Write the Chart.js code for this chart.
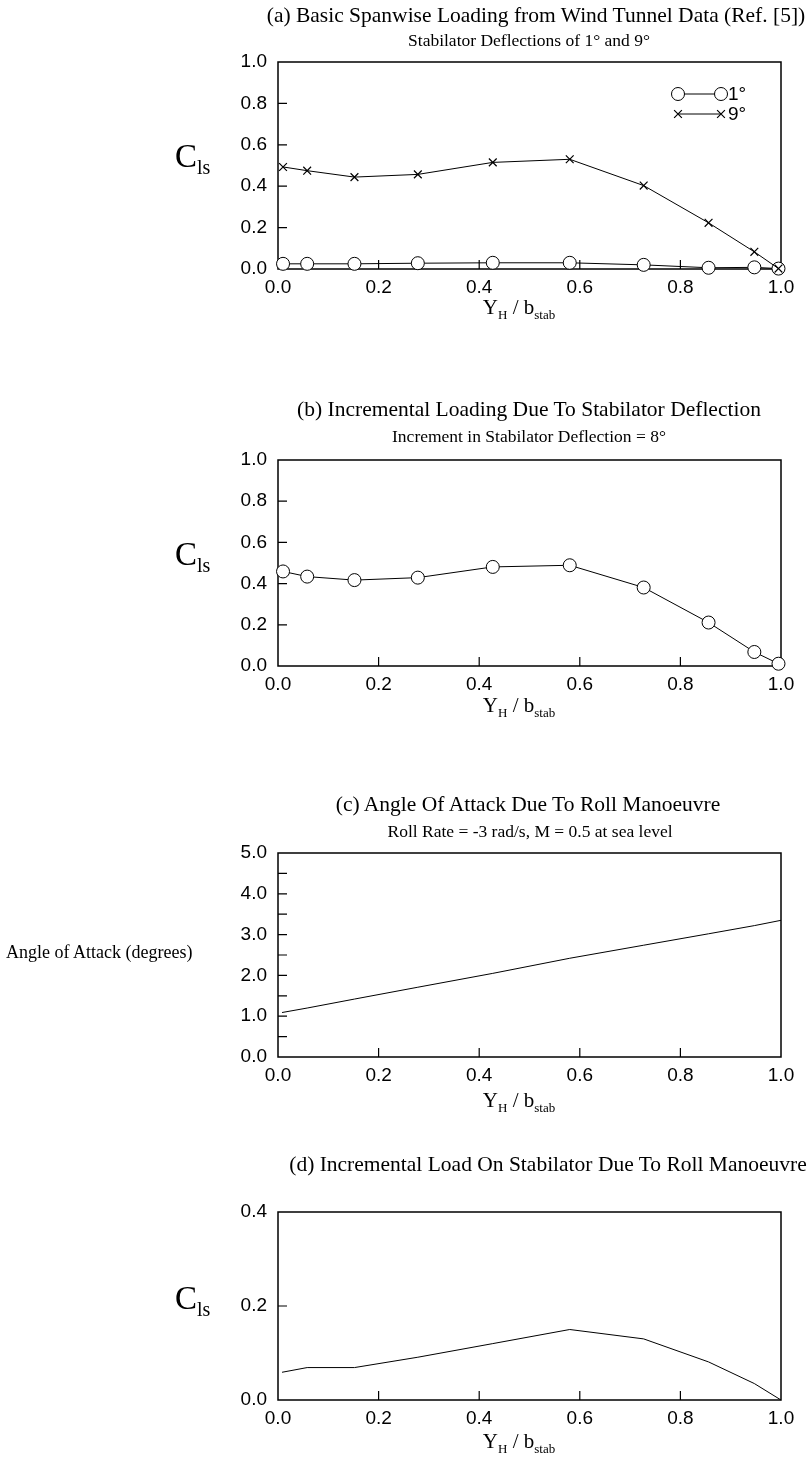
<!DOCTYPE html>
<html>
<head>
<meta charset="utf-8">
<script src="https://cdn.jsdelivr.net/npm/chart.js@4.4.1/dist/chart.umd.min.js"></script>
<style>
html,body{margin:0;padding:0;background:#fff;}
body{width:807px;height:1463px;position:relative;overflow:hidden;}
canvas{position:absolute;left:0;}
.t{position:absolute;font-family:"Liberation Serif","Times New Roman",serif;color:#000;white-space:nowrap;line-height:1;}
.c{transform:translate(-50%,-50%);}
.m{transform:translateY(-50%);}
.s{position:relative;}
.ti{font-size:21.5px;}
.st{font-size:17.5px;}
.xt{font-size:21px;}
.xt .s{font-size:13px;top:5px;}
.yc{font-size:33px;}
.yc .s{font-size:20px;top:7px;}
</style>
</head>
<body>
<canvas id="ca"></canvas>
<canvas id="cb"></canvas>
<canvas id="cc"></canvas>
<canvas id="cd"></canvas>

<div class="t c ti" style="left:536px;top:16px;">(a) Basic Spanwise Loading from Wind Tunnel Data (Ref. [5])</div>
<div class="t c st" style="left:529px;top:41px;">Stabilator Deflections of 1° and 9°</div>
<div class="t m yc" style="left:175px;top:156px;">C<span class="s">ls</span></div>
<div class="t c xt" style="left:519px;top:307px;">Y<span class="s">H</span> / b<span class="s">stab</span></div>

<div class="t c ti" style="left:529px;top:410px;">(b) Incremental Loading Due To Stabilator Deflection</div>
<div class="t c st" style="left:529px;top:437px;">Increment in Stabilator Deflection = 8°</div>
<div class="t m yc" style="left:175px;top:554px;">C<span class="s">ls</span></div>
<div class="t c xt" style="left:519px;top:705px;">Y<span class="s">H</span> / b<span class="s">stab</span></div>

<div class="t c ti" style="left:528px;top:805px;">(c) Angle Of Attack Due To Roll Manoeuvre</div>
<div class="t c st" style="left:530px;top:832px;">Roll Rate = -3 rad/s, M = 0.5 at sea level</div>
<div class="t m" style="left:6px;top:952px;font-size:18px;">Angle of Attack (degrees)</div>
<div class="t c xt" style="left:519px;top:1100px;">Y<span class="s">H</span> / b<span class="s">stab</span></div>

<div class="t c ti" style="left:548px;top:1165px;">(d) Incremental Load On Stabilator Due To Roll Manoeuvre</div>
<div class="t m yc" style="left:175px;top:1298px;">C<span class="s">ls</span></div>
<div class="t c xt" style="left:519px;top:1441px;">Y<span class="s">H</span> / b<span class="s">stab</span></div>

<script>
// ---------------- data ----------------
const stations      = [0.01, 0.058, 0.152, 0.278, 0.427, 0.58, 0.727, 0.856, 0.947, 0.995];
const rollStations  = [0.008, 0.058, 0.152, 0.278, 0.427, 0.58, 0.727, 0.856, 0.947, 1.0];
const cls1deg       = [0.025, 0.025, 0.025, 0.028, 0.030, 0.030, 0.020, 0.006, 0.008, 0.002];
const cls9deg       = [0.493, 0.475, 0.444, 0.457, 0.515, 0.530, 0.403, 0.223, 0.083, 0.002];
const clsIncrement  = [0.459, 0.434, 0.417, 0.429, 0.481, 0.489, 0.381, 0.211, 0.068, 0.011];
const alphaRoll     = [1.09, 1.20, 1.42, 1.71, 2.05, 2.42, 2.74, 3.02, 3.22, 3.35];
const clsRoll       = [0.059, 0.069, 0.069, 0.091, 0.120, 0.150, 0.130, 0.081, 0.035, 0.0];
const seriesLabels  = ['1°', '9°'];
const xTickValues   = [0.0, 0.2, 0.4, 0.6, 0.8, 1.0];
const clsTickValues = [0.0, 0.2, 0.4, 0.6, 0.8, 1.0];
const alphaTickValues = [0, 1, 2, 3, 4, 5];
const alphaMinorValues = [0.5, 1.5, 2.5, 3.5, 4.5];
const clsRollTickValues = [0.0, 0.2, 0.4];

// ---------------- helpers ----------------
const pts = (xs, ys) => xs.map((x, i) => ({x: x, y: ys[i]}));
const PLOT_LEFT = 278, PLOT_RIGHT = 781, PAD_LEFT = 150;
const TICK_FONT = {family: '"Liberation Sans", Arial, sans-serif', size: 19};

const framePlugin = {
  id: 'frame',
  beforeDatasetsDraw(chart, args, opts) {
    const {ctx, chartArea: a, scales} = chart;
    ctx.save();
    ctx.strokeStyle = '#000';
    ctx.lineWidth = 1.5;
    ctx.strokeRect(a.left, a.top, a.right - a.left, a.bottom - a.top);
    ctx.lineWidth = 1.2;
    const L = 9;
    ctx.beginPath();
    scales.x.ticks.forEach(t => {
      if (t.value <= scales.x.min || t.value >= scales.x.max) return;
      const px = scales.x.getPixelForValue(t.value);
      ctx.moveTo(px, a.bottom); ctx.lineTo(px, a.bottom - L);
    });
    const yv = scales.y.ticks.map(t => t.value).concat(opts.minor || []);
    yv.forEach(v => {
      if (v <= scales.y.min || v >= scales.y.max) return;
      const py = scales.y.getPixelForValue(v);
      ctx.moveTo(a.left, py); ctx.lineTo(a.left + L, py);
    });
    ctx.stroke();
    ctx.restore();
  }
};

const legendPlugin = {
  id: 'seriesLegend',
  afterDatasetsDraw(chart, args, opts) {
    if (!opts.show) return;
    const {ctx} = chart;
    const rows = [
      {ds: chart.data.datasets[0], y: 94},
      {ds: chart.data.datasets[1], y: 114}
    ];
    ctx.save();
    rows.forEach(r => {
      const x1 = 678, x2 = 721;
      ctx.strokeStyle = '#000';
      ctx.lineWidth = 1;
      ctx.beginPath(); ctx.moveTo(x1, r.y); ctx.lineTo(x2, r.y); ctx.stroke();
      [x1, x2].forEach(x => {
        ctx.fillStyle = r.ds.pointBackgroundColor;
        ctx.strokeStyle = '#000';
        ctx.lineWidth = r.ds.pointBorderWidth;
        Chart.helpers.drawPoint(ctx, {pointStyle: r.ds.pointStyle, radius: r.ds.pointRadius, rotation: 0, borderWidth: r.ds.pointBorderWidth}, x, r.y);
      });
      ctx.fillStyle = '#000';
      ctx.font = '19px "Liberation Sans", Arial, sans-serif';
      ctx.textBaseline = 'middle';
      ctx.textAlign = 'left';
      ctx.fillText(r.ds.label, x2 + 7, r.y + 1);
    });
    ctx.restore();
  }
};

function makeChart(id, cfg) {
  const cv = document.getElementById(id);
  cv.width = 807; cv.height = cfg.height;
  cv.style.top = cfg.top + 'px';
  cv.style.width = '807px'; cv.style.height = cfg.height + 'px';
  return new Chart(cv, {
    type: 'scatter',
    data: {datasets: cfg.datasets},
    options: {
      responsive: false,
      animation: false,
      devicePixelRatio: 1,
      layout: {padding: {left: PAD_LEFT, right: 807 - PLOT_RIGHT, top: cfg.plotTop - cfg.top, bottom: 0}},
      plugins: {
        legend: {display: false},
        tooltip: {enabled: false},
        frame: {minor: cfg.yMinor || []},
        seriesLegend: {show: !!cfg.legend}
      },
      scales: {
        x: {
          type: 'linear', min: 0, max: 1,
          afterBuildTicks: s => { s.ticks = xTickValues.map(v => ({value: v})); },
          afterFit: s => { s.height = cfg.top + cfg.height - cfg.plotBottom; },
          grid: {display: false, drawTicks: false},
          border: {display: false},
          ticks: {padding: 7, color: '#000', font: TICK_FONT, maxRotation: 0, autoSkip: false,
                  callback: v => Number(v).toFixed(1)}
        },
        y: {
          type: 'linear', min: cfg.yMin, max: cfg.yMax,
          afterBuildTicks: s => { s.ticks = cfg.yTicks.map(v => ({value: v})); },
          afterFit: s => { s.width = PLOT_LEFT - PAD_LEFT; },
          grid: {display: false, drawTicks: false},
          border: {display: false},
          ticks: {padding: 11, color: '#000', font: TICK_FONT, autoSkip: false,
                  callback: v => Number(v).toFixed(1)}
        }
      }
    },
    plugins: [framePlugin, legendPlugin]
  });
}

const circleStyle = {pointStyle: 'circle', pointRadius: 6.5, pointBorderWidth: 1, pointBackgroundColor: '#fff', pointBorderColor: '#000'};
const crossStyle  = {pointStyle: 'crossRot', pointRadius: 5.5, pointBorderWidth: 1.2, pointBackgroundColor: '#000', pointBorderColor: '#000'};
const lineStyle   = {showLine: true, borderColor: '#000', borderWidth: 1, clip: false, tension: 0};

makeChart('ca', {
  top: 0, height: 345, plotTop: 62, plotBottom: 269,
  yMin: 0, yMax: 1, yTicks: clsTickValues, legend: true,
  datasets: [
    Object.assign({label: seriesLabels[0], data: pts(stations, cls1deg), order: 1}, lineStyle, circleStyle),
    Object.assign({label: seriesLabels[1], data: pts(stations, cls9deg), order: 0}, lineStyle, crossStyle)
  ]
});

makeChart('cb', {
  top: 380, height: 350, plotTop: 460, plotBottom: 666,
  yMin: 0, yMax: 1, yTicks: clsTickValues,
  datasets: [
    Object.assign({label: 'Increment', data: pts(stations, clsIncrement)}, lineStyle, circleStyle)
  ]
});

makeChart('cc', {
  top: 760, height: 360, plotTop: 853, plotBottom: 1057,
  yMin: 0, yMax: 5, yTicks: alphaTickValues, yMinor: alphaMinorValues,
  datasets: [
    Object.assign({label: 'Angle of Attack', data: pts(rollStations, alphaRoll), pointRadius: 0}, lineStyle)
  ]
});

makeChart('cd', {
  top: 1130, height: 333, plotTop: 1212, plotBottom: 1400,
  yMin: 0, yMax: 0.4, yTicks: clsRollTickValues,
  datasets: [
    Object.assign({label: 'Roll load', data: pts(rollStations, clsRoll), pointRadius: 0}, lineStyle)
  ]
});
</script>
</body>
</html>
